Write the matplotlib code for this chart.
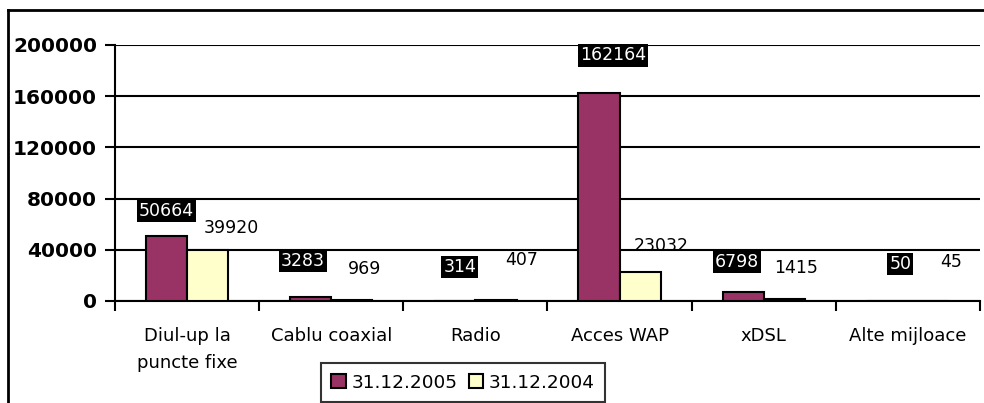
import matplotlib
matplotlib.use('Agg')
import matplotlib.pyplot as plt
import numpy as np
from matplotlib.patches import Patch
from matplotlib.lines import Line2D

# date
categories = ['Diul-up la\npuncte fixe', 'Cablu coaxial', 'Radio', 'Acces WAP', 'xDSL', 'Alte mijloace']
v2005 = [50664, 3283, 314, 162164, 6798, 50]
v2004 = [39920, 969, 407, 23032, 1415, 45]
series_names = ['31.12.2005', '31.12.2004']
yticks = [0, 40000, 80000, 120000, 160000, 200000]

# deplasari etichete (pixeli), ca in original
off2005 = [(0, 25), (-8, 36), (5, 34), (14, 38), (-6, 30), (13, 37)]
off2004 = [(24, 22), (13, 31), (26, 40), (21, 26), (12, 31), (23, 39)]

plt.rcParams['font.family'] = ['DejaVu Sans']

fig = plt.figure(figsize=(9.84, 4.03), dpi=100)
ax = fig.add_axes([115/984, 1 - 301/403, 865/984, 256/403])

x = np.arange(len(categories)) + 0.5
w = 0.286
c1 = '#993366'
c2 = '#ffffcc'

ax.bar(x - w/2, v2005, w, color=c1, edgecolor='black', linewidth=1.5, zorder=3)
ax.bar(x + w/2, v2004, w, color=c2, edgecolor='black', linewidth=1.5, zorder=3)

for i in range(len(categories)):
    ax.annotate(str(v2005[i]), (x[i] - w/2, v2005[i]), xytext=off2005[i],
                textcoords='offset pixels', ha='center', va='center', fontsize=12.5,
                color='white', zorder=5,
                bbox=dict(facecolor='black', edgecolor='none', pad=1.5))
    ax.annotate(str(v2004[i]), (x[i] + w/2, v2004[i]), xytext=off2004[i],
                textcoords='offset pixels', ha='center', va='center', fontsize=12.5,
                color='black', zorder=5)

ax.set_xlim(0, len(categories))
ax.set_ylim(0, 200000)
ax.set_yticks(yticks)
ax.set_yticklabels([str(t) for t in yticks], fontsize=14.5, fontweight='bold')
ax.yaxis.grid(True, color='black', linewidth=1.5, zorder=0)
ax.set_axisbelow(True)

ax.set_xticks(x)
ax.set_xticklabels(categories, fontsize=13, linespacing=1.65)
ax.set_xticks(np.arange(len(categories) + 1), minor=True)
ax.tick_params(axis='x', which='major', length=0, pad=19)
ax.tick_params(axis='x', which='minor', length=7, width=1.5, direction='out')
ax.tick_params(axis='y', length=7, width=1.5, direction='out', pad=6)

for s in ['top', 'right']:
    ax.spines[s].set_visible(False)
for s in ['left', 'bottom']:
    ax.spines[s].set_linewidth(1.5)

handles = [Patch(facecolor=c1, edgecolor='black', linewidth=1.5),
           Patch(facecolor=c2, edgecolor='black', linewidth=1.5)]
leg = fig.legend(handles, series_names, loc='center', bbox_to_anchor=(463/984, 1 - 382.5/403),
                 ncol=2, fontsize=13.3, frameon=True, fancybox=False, handlelength=0.8,
                 handleheight=0.8, handletextpad=0.3, columnspacing=0.6, borderpad=0.55,
                 borderaxespad=0)
leg.get_frame().set_edgecolor('black')
leg.get_frame().set_linewidth(1.5)

# chenarul graficului
fig.add_artist(Line2D([8/984, 8/984], [0, 1 - 10/403], color='black', linewidth=2, transform=fig.transFigure))
fig.add_artist(Line2D([8/984, 1], [1 - 10/403, 1 - 10/403], color='black', linewidth=2, transform=fig.transFigure))

fig.savefig('out.png', dpi=100)
